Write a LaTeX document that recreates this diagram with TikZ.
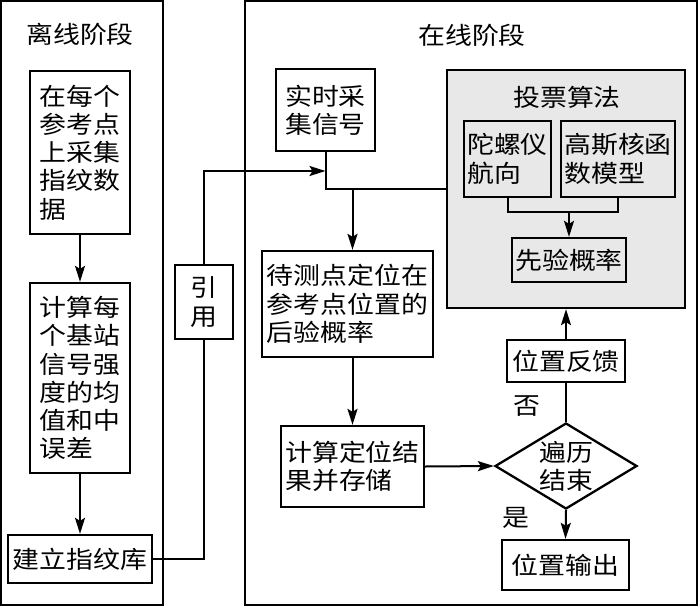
\documentclass[tikz,border=0pt]{standalone}
\usepackage{fontspec}
\setmainfont{Noto Sans CJK SC}[FakeStretch=1.12]
\usetikzlibrary{arrows.meta,shapes.geometric}
\tikzset{
  every node/.style={font=\fontsize{24}{28.3}\selectfont, inner sep=0pt},
  ln/.style={line width=2pt},
  bl/.style={line width=2.3pt},
  arr/.style={ln, -{Stealth[length=16pt,width=10pt,inset=3pt]}},
  box/.style={draw, bl, align=left, minimum width=#1},
  panel/.style={draw, bl},
}
\begin{document}
\begin{tikzpicture}[x=1pt,y=-1pt]
\useasboundingbox (0,0) rectangle (700,607);
% panels
\node[panel, minimum width=162, minimum height=604] (off) at (82,303) {};
\node (offT) at (80,34) {离线阶段};
\node[panel, minimum width=452, minimum height=604] (on) at (471,303) {};
\node (onT) at (472,35) {在线阶段};
% voting container
\node[panel, fill=gray!18, minimum width=238, minimum height=238] (vote) at (566,189) {};
\node (voteT) at (567,97) {投票算法};
% offline boxes
\node[box=100, minimum height=163] (b1) at (80,152.5) {在每个\\参考点\\上采集\\指纹数\\据};
\node[box=100, minimum height=190] (b2) at (80,378) {计算每\\个基站\\信号强\\度的均\\值和中\\误差};
\node[box=144, minimum height=48] (b3) at (80,559) {建立指纹库};
\node[box=58, minimum height=74, align=center] (ref) at (204,302) {引\\用};
% online boxes
\node[box=99, minimum height=82] (rt) at (325.5,110) {实时采\\集信号};
\node[box=87, minimum height=76] (gyro) at (507.5,159) {陀螺仪\\航向};
\node[box=114, minimum height=76] (gauss) at (618,159) {高斯核函\\数模型};
\node[box=114, minimum height=44] (prior) at (569,260) {先验概率};
\node[box=171, minimum height=106] (post) at (347.5,304) {待测点定位在\\参考点位置的\\后验概率};
\node[box=143, minimum height=81] (calc) at (352.5,466.5) {计算定位结\\果并存储};
\node[draw, bl, diamond, minimum width=142, minimum height=86] (dia) at (566,466) {};
\node[align=center] (diaT) at (dia.center) {遍历\\结束};
\node[box=118, minimum height=42] (fb) at (566,361) {位置反馈};
\node[box=127, minimum height=50] (out) at (565.5,565) {位置输出};
\node (no) at (527,406) {否};
\node (yes) at (516,518) {是};
% connectors
\draw[arr] (b1.south) -- (b2.north);
\draw[arr] (b2.south) -- (b3.north);
\draw[ln] (b3.east) -| (ref.south);
\coordinate (jr) at (rt.south |- 0,171);
\draw[arr] (ref.north) |- (jr);
\draw[ln] (rt.south) |- (vote.west);
\coordinate (jp) at (calc.north |- vote.west);
\draw[arr] (jp) -- (jp |- post.north);
\draw[arr] (post.south -| calc.north) -- (calc.north);
\coordinate (jv) at (prior.north |- 0,212);
\draw[ln] (gyro.south) |- (jv) -| (gauss.south);
\draw[arr] (jv) -- (prior.north);
\draw[arr] (calc.east) -- (dia.west);
\draw[ln] (dia.north) -- (fb.south);
\draw[arr] (fb.north) -- (vote.south -| fb.north);
\draw[arr] (dia.south) -- (out.north);
\end{tikzpicture}
\end{document}
